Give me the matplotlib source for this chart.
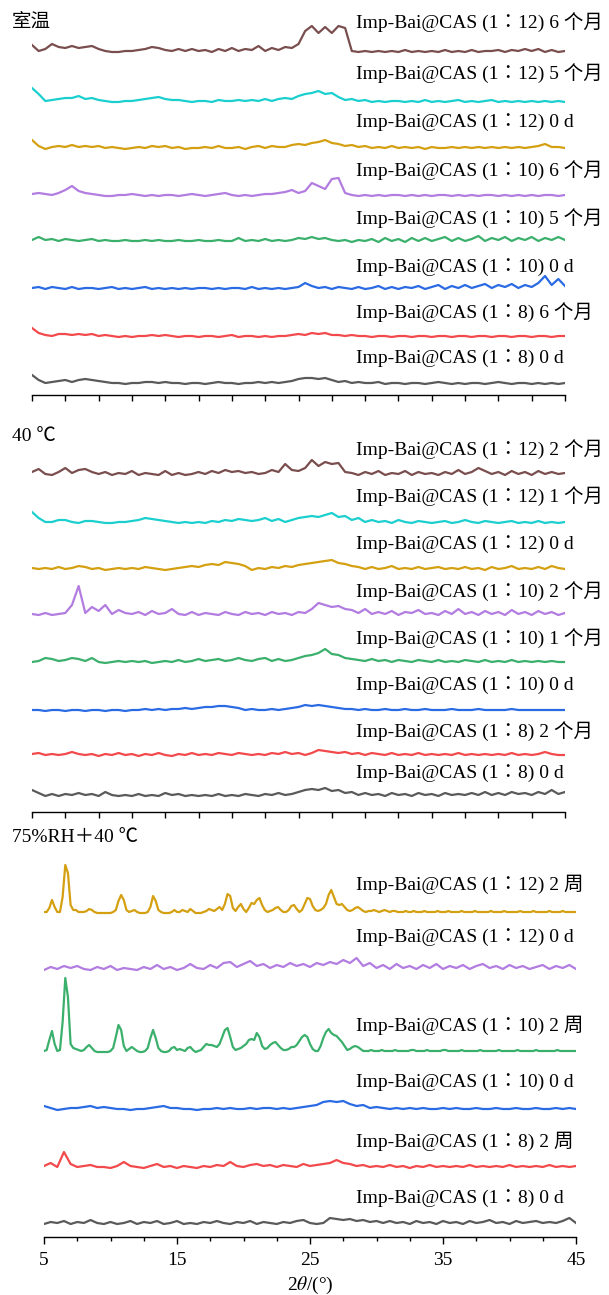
import numpy as np
import matplotlib.pyplot as plt
from matplotlib.ticker import MultipleLocator

plt.rcParams['font.family'] = ['Liberation Serif', 'Noto Sans CJK TC']
plt.rcParams['mathtext.fontset'] = 'stix'

W, H = 609, 1295

# ---------------- 室温 ----------------
rt_labels = ['Imp-Bai@CAS (1：12) 6 个月', 'Imp-Bai@CAS (1：12) 5 个月',
             'Imp-Bai@CAS (1：12) 0 d', 'Imp-Bai@CAS (1：10) 6 个月',
             'Imp-Bai@CAS (1：10) 5 个月', 'Imp-Bai@CAS (1：10) 0 d',
             'Imp-Bai@CAS (1：8) 6 个月', 'Imp-Bai@CAS (1：8) 0 d']
rt_112_6m = [8, 2, 4, 9, 6, 5, 7, 5, 6, 7, 4, 2, 1, 1, 2, 2, 3, 4, 6, 5,
             3, 2, 4, 2, 4, 2, 3, 1, 4, 2, 5, 2, 4, 3, 7, 2, 5, 3, 6, 5,
             9, 22, 27, 20, 26, 20, 27, 25, 2, 1, 2, 1, 2, 1, 2, 1, 3, 1, 2, 1,
             2, 1, 3, 1, 2, 1, 3, 1, 2, 2, 3, 1, 3, 2, 4, 2, 4, 1, 3, 1, 2]
rt_112_5m = [15, 9, 2, 3, 4, 5, 5, 7, 4, 5, 3, 2, 1, 1, 2, 2, 3, 4, 5, 6,
             4, 3, 3, 2, 1, 2, 2, 1, 3, 2, 2, 3, 2, 3, 2, 4, 2, 4, 5, 4,
             7, 9, 10, 12, 9, 10, 6, 3, 4, 2, 3, 1, 2, 1, 2, 2, 1, 2, 1, 3,
             1, 2, 1, 2, 3, 1, 2, 1, 2, 3, 1, 2, 1, 2, 1, 2, 1, 2, 1, 2, 1]
rt_112_0d = [10, 4, 1, 3, 4, 3, 5, 3, 4, 3, 4, 2, 3, 2, 1, 2, 3, 2, 4, 3,
             4, 2, 3, 1, 2, 2, 3, 2, 4, 2, 2, 3, 1, 3, 4, 2, 4, 3, 3, 5,
             6, 5, 7, 8, 10, 7, 6, 4, 5, 3, 4, 2, 3, 2, 4, 2, 3, 2, 3, 1,
             3, 2, 2, 3, 2, 3, 2, 3, 2, 3, 2, 3, 2, 3, 2, 3, 4, 6, 3, 3, 2]
rt_110_6m = [3, 4, 3, 2, 4, 7, 11, 6, 4, 3, 2, 1, 1, 2, 2, 3, 2, 1, 2, 1,
             2, 2, 1, 2, 3, 2, 1, 2, 3, 4, 2, 1, 2, 1, 2, 3, 3, 4, 5, 7,
             4, 6, 14, 11, 8, 18, 19, 4, 2, 1, 2, 1, 2, 1, 2, 2, 1, 2, 1, 2,
             1, 2, 2, 1, 2, 1, 2, 1, 2, 2, 1, 2, 1, 2, 1, 2, 1, 2, 2, 1, 2]
rt_110_5m = [3, 6, 3, 4, 2, 4, 3, 2, 3, 4, 2, 3, 2, 2, 3, 2, 2, 3, 2, 3,
             2, 2, 3, 2, 2, 3, 2, 2, 3, 2, 2, 5, 2, 3, 2, 4, 2, 3, 2, 3,
             5, 4, 6, 4, 5, 3, 2, 3, 1, 3, 2, 4, 1, 5, 2, 4, 1, 5, 2, 5,
             2, 4, 6, 2, 5, 2, 4, 7, 2, 5, 3, 6, 2, 5, 3, 6, 2, 5, 3, 6, 3]
rt_110_0d = [2, 3, 1, 3, 2, 1, 3, 1, 2, 2, 1, 2, 3, 1, 2, 1, 2, 3, 1, 2,
             1, 2, 1, 2, 1, 2, 2, 1, 2, 1, 2, 2, 1, 3, 1, 2, 1, 2, 1, 2,
             3, 7, 4, 2, 3, 1, 3, 2, 1, 3, 1, 2, 4, 1, 3, 1, 3, 2, 4, 1,
             3, 5, 1, 4, 2, 5, 2, 4, 6, 2, 5, 3, 6, 2, 5, 3, 7, 14, 5, 11, 4]
rt_18_6m = [10, 5, 3, 2, 4, 4, 3, 4, 3, 4, 2, 3, 2, 1, 2, 1, 2, 2, 3, 2,
            3, 2, 1, 2, 2, 1, 2, 2, 1, 2, 3, 1, 2, 2, 1, 2, 1, 2, 2, 3,
            4, 3, 5, 4, 5, 3, 3, 2, 3, 2, 2, 1, 2, 2, 1, 2, 2, 1, 2, 2,
            1, 2, 2, 1, 2, 2, 1, 2, 2, 1, 2, 2, 1, 2, 2, 1, 2, 2, 1, 2, 2]
rt_18_0d = [10, 5, 2, 3, 4, 5, 3, 5, 6, 5, 4, 3, 2, 2, 1, 2, 2, 3, 3, 2,
            3, 2, 2, 1, 2, 2, 1, 2, 3, 2, 2, 1, 2, 2, 3, 2, 3, 2, 3, 4,
            6, 7, 7, 6, 7, 5, 3, 4, 2, 3, 2, 2, 3, 1, 2, 2, 1, 2, 2, 1,
            2, 3, 2, 1, 2, 1, 2, 2, 1, 2, 3, 2, 1, 2, 2, 1, 2, 1, 2, 1, 2]
rt_scans = [rt_112_6m, rt_112_5m, rt_112_0d, rt_110_6m,
            rt_110_5m, rt_110_0d, rt_18_6m, rt_18_0d]
rt_steps = [0.5] * 8

# ---------------- 40 ℃ ----------------
t40_labels = ['Imp-Bai@CAS (1：12) 2 个月', 'Imp-Bai@CAS (1：12) 1 个月',
              'Imp-Bai@CAS (1：12) 0 d', 'Imp-Bai@CAS (1：10) 2 个月',
              'Imp-Bai@CAS (1：10) 1 个月', 'Imp-Bai@CAS (1：10) 0 d',
              'Imp-Bai@CAS (1：8) 2 个月', 'Imp-Bai@CAS (1：8) 0 d']
t40_112_2m = [5, 8, 3, 2, 5, 9, 4, 7, 8, 5, 3, 5, 2, 4, 3, 6, 2, 4, 3, 2,
              6, 2, 4, 2, 3, 5, 3, 6, 4, 7, 5, 6, 4, 5, 3, 4, 7, 5, 13, 7,
              6, 9, 17, 11, 15, 13, 14, 5, 4, 2, 5, 3, 6, 2, 4, 3, 6, 2, 5, 3,
              4, 2, 5, 3, 7, 3, 5, 9, 6, 3, 5, 2, 6, 3, 5, 2, 6, 3, 5, 3, 4]
t40_112_1m = [12, 6, 2, 2, 4, 4, 2, 1, 3, 3, 2, 1, 1, 2, 2, 3, 4, 6, 5, 4,
              3, 2, 1, 2, 1, 2, 1, 3, 2, 4, 3, 5, 4, 3, 4, 6, 3, 5, 2, 4,
              6, 7, 8, 7, 9, 11, 7, 8, 4, 6, 2, 4, 2, 3, 1, 4, 2, 1, 3, 2,
              1, 2, 3, 1, 2, 4, 2, 1, 3, 2, 1, 2, 3, 1, 2, 1, 3, 1, 2, 1, 2]
t40_112_0d = [3, 2, 3, 2, 4, 2, 3, 5, 4, 2, 3, 1, 2, 3, 2, 3, 2, 4, 3, 2,
              1, 2, 3, 4, 5, 4, 6, 7, 6, 9, 8, 7, 5, 1, 3, 2, 4, 3, 5, 4,
              6, 7, 8, 9, 10, 11, 8, 7, 5, 4, 2, 4, 2, 3, 5, 2, 3, 2, 4, 2,
              3, 4, 2, 3, 2, 4, 2, 3, 1, 4, 2, 3, 5, 2, 3, 2, 4, 2, 5, 3, 2]
t40_110_2m = [3, 2, 4, 2, 3, 4, 12, 31, 4, 10, 6, 12, 3, 7, 4, 3, 5, 2, 6, 3,
              4, 8, 3, 2, 5, 2, 4, 3, 2, 5, 3, 2, 5, 3, 4, 2, 5, 3, 4, 2,
              5, 4, 8, 14, 12, 10, 11, 8, 7, 4, 8, 3, 5, 3, 6, 2, 5, 4, 7, 3,
              4, 2, 6, 3, 8, 3, 5, 2, 6, 3, 5, 2, 7, 3, 5, 2, 6, 3, 5, 2, 4]
t40_110_1m = [2, 3, 6, 5, 3, 4, 6, 5, 3, 6, 2, 1, 2, 3, 2, 3, 2, 3, 1, 2,
              3, 2, 4, 2, 3, 5, 3, 4, 5, 3, 4, 6, 4, 3, 5, 6, 3, 5, 3, 4,
              6, 8, 9, 11, 15, 10, 9, 6, 5, 4, 3, 5, 3, 4, 2, 4, 3, 2, 4, 3,
              2, 4, 2, 3, 2, 4, 3, 2, 4, 2, 3, 2, 4, 2, 3, 2, 3, 2, 3, 2, 2]
t40_110_0d = [2, 2, 1, 2, 2, 1, 2, 2, 1, 2, 2, 1, 2, 2, 1, 2, 2, 3, 2, 3,
              2, 3, 3, 4, 3, 4, 5, 5, 6, 6, 5, 4, 2, 3, 2, 2, 3, 2, 3, 4,
              5, 7, 6, 7, 6, 5, 4, 3, 3, 2, 3, 2, 2, 3, 2, 2, 3, 2, 2, 3,
              2, 2, 2, 3, 2, 2, 2, 3, 2, 2, 2, 2, 3, 2, 2, 2, 2, 2, 2, 2, 2]
t40_18_2m = [3, 4, 2, 3, 2, 3, 5, 3, 2, 3, 1, 3, 2, 4, 2, 3, 1, 3, 2, 4,
             2, 1, 3, 2, 4, 2, 3, 2, 4, 3, 2, 4, 3, 2, 3, 2, 4, 3, 5, 3,
             4, 2, 4, 7, 6, 5, 4, 5, 3, 4, 2, 4, 3, 2, 4, 2, 3, 2, 4, 2,
             3, 2, 3, 2, 4, 2, 3, 2, 3, 2, 3, 2, 4, 2, 3, 2, 3, 5, 3, 2, 2]
t40_18_0d = [8, 5, 2, 4, 2, 4, 3, 5, 3, 4, 2, 6, 3, 2, 3, 2, 4, 2, 3, 2,
             5, 3, 4, 2, 3, 2, 3, 2, 4, 2, 3, 2, 4, 3, 2, 4, 3, 5, 3, 4,
             6, 8, 9, 8, 10, 7, 8, 5, 6, 3, 5, 3, 4, 2, 5, 3, 4, 2, 5, 3,
             4, 2, 5, 3, 4, 3, 5, 3, 6, 3, 5, 3, 6, 4, 5, 3, 6, 4, 8, 4, 6]
t40_scans = [t40_112_2m, t40_112_1m, t40_112_0d, t40_110_2m,
             t40_110_1m, t40_110_0d, t40_18_2m, t40_18_0d]
t40_steps = [0.5] * 8

# ---------------- 75%RH + 40 ℃ ----------------
rh_labels = ['Imp-Bai@CAS (1：12) 2 周', 'Imp-Bai@CAS (1：12) 0 d',
             'Imp-Bai@CAS (1：10) 2 周', 'Imp-Bai@CAS (1：10) 0 d',
             'Imp-Bai@CAS (1：8) 2 周', 'Imp-Bai@CAS (1：8) 0 d']
# 0.2 deg scans
rh_112_2w = [1, 1, 5, 13, 6, 1, 1, 16, 48, 40,      # 5.0
             8, 3, 3, 1, 1, 1, 2, 4, 3, 1,          # 7.0
             0, 0, 0, 0, 0, 0, 1, 3, 12, 18,        # 9.0
             13, 3, 1, 2, 3, 1, 0, 0, 0, 1,         # 11.0
             6, 17, 12, 3, 1, 0, 0, 0, 1, 3,        # 13.0
             1, 1, 3, 2, 1, 4, 2, 0, 0, 0,          # 15.0
             1, 2, 4, 3, 2, 4, 6, 3, 9, 19,         # 17.0
             17, 5, 2, 6, 9, 4, 1, 5, 10, 9,        # 19.0
             13, 15, 8, 3, 1, 2, 3, 5, 6, 3,        # 21.0
             1, 1, 3, 7, 8, 4, 1, 3, 9, 15,         # 23.0
             14, 7, 3, 2, 3, 5, 9, 18, 23, 16,      # 25.0
             9, 8, 9, 6, 3, 2, 3, 5, 6, 4,          # 27.0
             2, 1, 2, 2, 3, 2, 1, 2, 3, 2,          # 29.0
             1, 2, 2, 1, 1, 1, 2, 1, 1, 2,          # 31.0
             1, 1, 1, 2, 1, 1, 1, 1, 2, 1,          # 33.0
             1, 1, 2, 1, 1, 1, 1, 2, 1, 1,          # 35.0
             1, 1, 2, 1, 1, 1, 1, 1, 2, 1,          # 37.0
             1, 1, 1, 2, 1, 1, 1, 1, 1, 2,          # 39.0
             1, 1, 1, 1, 2, 1, 1, 1, 1, 1,          # 41.0
             2, 1, 1, 1, 1, 2, 1, 1, 1, 1,          # 43.0
             1]                                     # 45.0
rh_112_0d = [2, 5, 3, 6, 4, 6, 3, 2, 5, 3, 6, 2, 4, 3, 2, 5, 3, 7, 3, 5,
             2, 4, 8, 4, 3, 7, 4, 9, 10, 5, 8, 11, 6, 8, 4, 7, 5, 9, 6, 8,
             5, 9, 7, 10, 8, 12, 9, 14, 6, 9, 4, 7, 3, 8, 4, 6, 3, 7, 4, 8,
             3, 6, 4, 7, 3, 6, 8, 4, 6, 3, 7, 4, 6, 3, 5, 7, 3, 6, 4, 7, 3]
rh_110_2w = [1, 2, 12, 21, 8, 1, 2, 30, 74, 55,     # 5.0
             8, 4, 3, 2, 1, 2, 5, 7, 4, 1,          # 7.0
             0, 0, 0, 0, 0, 1, 4, 15, 27, 22,       # 9.0
             6, 1, 3, 5, 3, 1, 0, 0, 1, 4,          # 11.0
             14, 22, 14, 4, 1, 0, 0, 1, 4, 5,       # 13.0
             2, 3, 2, 1, 4, 5, 2, 0, 1, 2,          # 15.0
             5, 8, 7, 7, 6, 5, 8, 15, 22, 24,       # 17.0
             15, 5, 2, 3, 4, 6, 8, 12, 13, 12,      # 19.0
             19, 15, 6, 3, 4, 7, 9, 10, 7, 4,       # 21.0
             2, 2, 3, 5, 5, 7, 11, 15, 17, 15,      # 23.0
             8, 3, 1, 1, 6, 14, 20, 23, 19, 17,     # 25.0
             16, 13, 10, 6, 2, 3, 5, 6, 5, 3,       # 27.0
             1, 1, 1, 2, 1, 1, 1, 2, 1, 1,          # 29.0
             1, 1, 2, 1, 1, 1, 1, 1, 2, 2,          # 31.0
             1, 1, 1, 1, 2, 1, 1, 1, 1, 1,          # 33.0
             2, 2, 1, 1, 1, 1, 1, 2, 1, 1,          # 35.0
             1, 1, 1, 1, 2, 1, 1, 1, 1, 1,          # 37.0
             1, 2, 1, 1, 1, 1, 1, 1, 2, 1,          # 39.0
             1, 1, 1, 1, 1, 2, 1, 1, 1, 1,          # 41.0
             1, 1, 1, 2, 1, 1, 1, 1, 1, 1,          # 43.0
             1]                                     # 45.0
rh_110_0d = [5, 3, 1, 2, 3, 3, 4, 5, 3, 4, 3, 2, 2, 1, 2, 2, 3, 4, 5, 3,
             3, 2, 2, 1, 2, 2, 3, 2, 3, 2, 2, 3, 2, 3, 3, 2, 3, 2, 3, 4,
             5, 6, 9, 10, 9, 10, 7, 5, 6, 3, 4, 3, 2, 3, 2, 3, 2, 3, 2, 2,
             3, 2, 3, 2, 2, 3, 2, 2, 3, 2, 2, 3, 2, 2, 3, 2, 2, 3, 2, 3, 2]
rh_18_2w = [3, 6, 2, 17, 5, 2, 3, 4, 2, 2, 1, 3, 7, 3, 2, 1, 3, 5, 2, 3,
            1, 3, 2, 1, 3, 2, 4, 3, 7, 3, 2, 4, 5, 3, 4, 2, 4, 3, 2, 5,
            3, 4, 5, 6, 9, 6, 5, 3, 4, 2, 3, 2, 4, 2, 3, 1, 3, 2, 4, 2,
            3, 2, 3, 2, 4, 2, 3, 2, 3, 2, 4, 2, 3, 2, 3, 2, 4, 2, 3, 2, 3]
rh_18_0d = [2, 4, 3, 5, 2, 4, 3, 6, 3, 2, 4, 2, 3, 5, 2, 4, 3, 5, 2, 3,
            5, 2, 3, 2, 4, 3, 5, 3, 2, 4, 3, 5, 2, 4, 3, 2, 4, 3, 5, 6,
            3, 2, 3, 8, 7, 6, 7, 5, 6, 4, 5, 3, 5, 3, 4, 2, 5, 3, 4, 2,
            5, 3, 4, 2, 5, 3, 4, 6, 3, 4, 2, 5, 3, 4, 5, 3, 4, 3, 5, 8, 3]
rh_scans = [rh_112_2w, rh_112_0d, rh_110_2w, rh_110_0d, rh_18_2w, rh_18_0d]
rh_steps = [0.2, 0.5, 0.2, 0.5, 0.5, 0.5]

tick_values = [5, 15, 25, 35, 45]

brown, cyan, gold, purple = '#7a4e4e', '#1ccfcf', '#d4a012', '#b27ce0'
green, blue, red, grey = '#3bb06c', '#2a6be4', '#f24a4c', '#5a5a5a'
eight_colors = [brown, cyan, gold, purple, green, blue, red, grey]
rh_colors = [gold, purple, green, blue, red, grey]

fig = plt.figure(figsize=(W / 100, H / 100), dpi=100)


def panel(x0, x1, top, bottom, scans, steps, colors, baselines,
          labels, label_y, label_x, title, title_y, show_labels):
    ax = fig.add_axes([x0 / W, 1 - bottom / H, (x1 - x0) / W, (bottom - top) / H])
    ax.set_xlim(5, 45)
    ax.set_ylim(0, bottom - top)
    for y, step, c, base in zip(scans, steps, colors, baselines):
        tt = 5 + step * np.arange(len(y))
        ax.plot(tt, bottom - base + np.array(y), color=c, lw=1.6,
                solid_joinstyle='round', clip_on=True)
    for sp in ['top', 'left', 'right']:
        ax.spines[sp].set_visible(False)
    ax.spines['bottom'].set_linewidth(1.0)
    ax.set_yticks([])
    if show_labels:
        ax.set_xticks(tick_values)
        ax.xaxis.set_minor_locator(MultipleLocator(2.5))
        ax.tick_params(axis='x', which='major', direction='out', length=5,
                       width=1, labelsize=14, pad=6)
        ax.tick_params(axis='x', which='minor', direction='out', length=3, width=1)
    else:
        ax.xaxis.set_major_locator(MultipleLocator(2.5))
        ax.tick_params(axis='x', which='major', direction='out', length=4,
                       width=1, labelbottom=False)
    for lab, ly in zip(labels, label_y):
        fig.text(label_x / W, 1 - ly / H, lab, fontsize=14, va='center', ha='left')
    fig.text(12 / W, 1 - title_y / H, title, fontsize=14, va='center', ha='left')
    return ax


panel(32, 565, 10, 395, rt_scans, rt_steps, eight_colors,
      [53, 103, 150, 197, 243, 290, 338, 385],
      rt_labels, [22, 73, 122, 170, 218, 267, 312, 358], 356, '室温', 22, False)
panel(32, 565, 445, 812, t40_scans, t40_steps, eight_colors,
      [477, 524, 571, 617, 664, 712, 757, 798],
      t40_labels, [449, 496, 544, 591, 638, 685, 731, 773], 356, '40 ℃', 437, False)
panel(44, 576, 850, 1237, rh_scans, rh_steps, rh_colors,
      [913, 972, 1052, 1111, 1169, 1226],
      rh_labels, [884, 937, 1025, 1082, 1141, 1198], 356, '75%RH＋40 ℃', 838, True)

fig.text(310 / W, 1 - 1285 / H, r'2$\theta$/(°)', fontsize=14, ha='center', va='center')

fig.savefig('out.png', dpi=100, facecolor='white')
